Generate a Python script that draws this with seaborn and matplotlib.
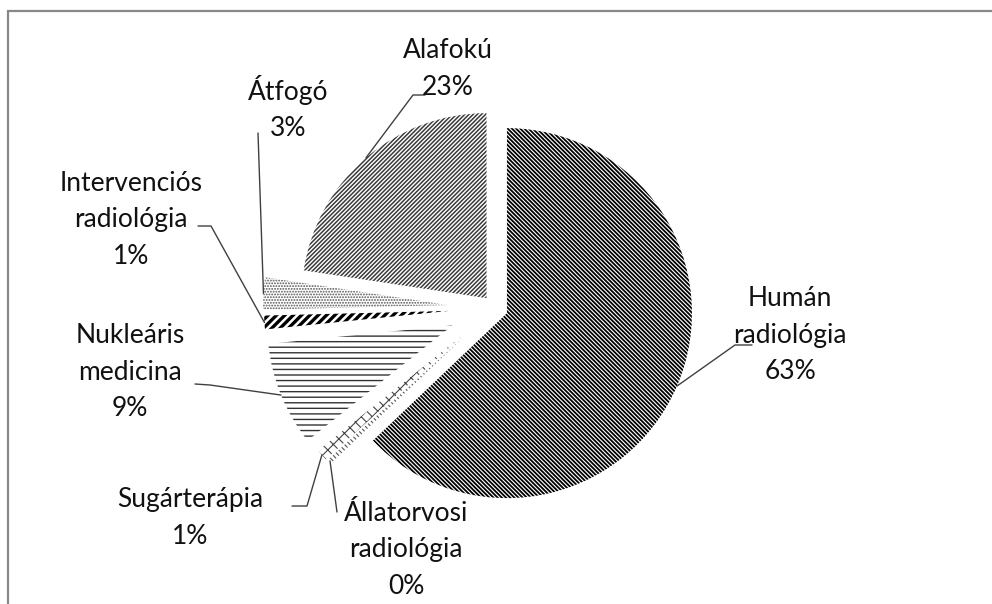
import numpy as np
import seaborn as sns
import matplotlib.pyplot as plt
from matplotlib.patches import Rectangle

# data (share of respondents per field)
categories = ["Humán\nradiológia", "Állatorvosi\nradiológia", "Sugárterápia",
              "Nukleáris\nmedicina", "Intervenciós\nradiológia", "Átfogó", "Alafokú"]
shares = [62.9, 0.4, 1.0, 9.1, 1.2, 2.8, 22.6]
pct_labels = ["63%", "0%", "1%", "9%", "1%", "3%", "23%"]

# styling per slice (explode in pixels, since the pie radius is given in pixels)
explode = [13, 40, 42, 46, 46, 47, 13]
hatches = ["\\" * 8, "\\" * 6, "xxx", "---", "////", "......", "/" * 8]
hatch_colors = ["#000000", "#555555", "#444444", "#333333", "#000000", "#555555", "#3a3a3a"]
hatch_widths = [1.3, 0.8, 0.8, 1.0, 2.4, 0.9, 1.1]

# label layout in pixel space (y measured from top): text centre, leader start points
text_pos = [(790, 335), (406, 550), (190, 518), (130, 372), (131, 220), (288, 108), (448, 69)]
leaders = [[(752, 345), (735, 345)], [(337, 512)], [(292, 506), (307, 506)],
           [(195, 384), (210, 385)], [(198, 226), (211, 226)], [(258, 133)],
           [(425, 95), (413, 95)]]

W, H = 992, 604
sns.set_theme(style="white")
plt.rcParams["font.family"] = ["Lato", "DejaVu Sans"]

fig = plt.figure(figsize=(W / 100, H / 100), dpi=100)
ax = fig.add_axes([0, 0, 1, 1])

wedges, _ = ax.pie(shares, explode=explode, startangle=90, counterclock=False,
                   radius=185, center=(495, H - 308),
                   colors=["white"] * len(shares),
                   wedgeprops=dict(linewidth=0))
for w, h, c, lw in zip(wedges, hatches, hatch_colors, hatch_widths):
    w.set_hatch(h)
    w.set_edgecolor(c)
    w.set_linewidth(0)
    if hasattr(w, "set_hatch_linewidth"):
        w.set_hatch_linewidth(lw)

ax.set_xlim(0, W)
ax.set_ylim(0, H)
ax.set_aspect("equal")
ax.axis("off")

for w, cat, pct, (tx, ty), pts in zip(wedges, categories, pct_labels, text_pos, leaders):
    ax.text(tx, H - ty, f"{cat}\n{pct}", ha="center", va="center",
            multialignment="center", fontsize=19, linespacing=1.58, color="#111111")
    mid = np.deg2rad((w.theta1 + w.theta2) / 2)
    cx, cy = w.center
    end = (cx + w.r * np.cos(mid), cy + w.r * np.sin(mid))
    xs = [p[0] for p in pts] + [end[0]]
    ys = [H - p[1] for p in pts] + [end[1]]
    ax.plot(xs, ys, color="#404040", linewidth=1.0)

fig.add_artist(Rectangle((8 / W, -0.1), 1.2, (H - 11) / H + 0.1,
                         transform=fig.transFigure, fill=False,
                         edgecolor="#888888", linewidth=1.6))

fig.savefig("out.png", dpi=100)
